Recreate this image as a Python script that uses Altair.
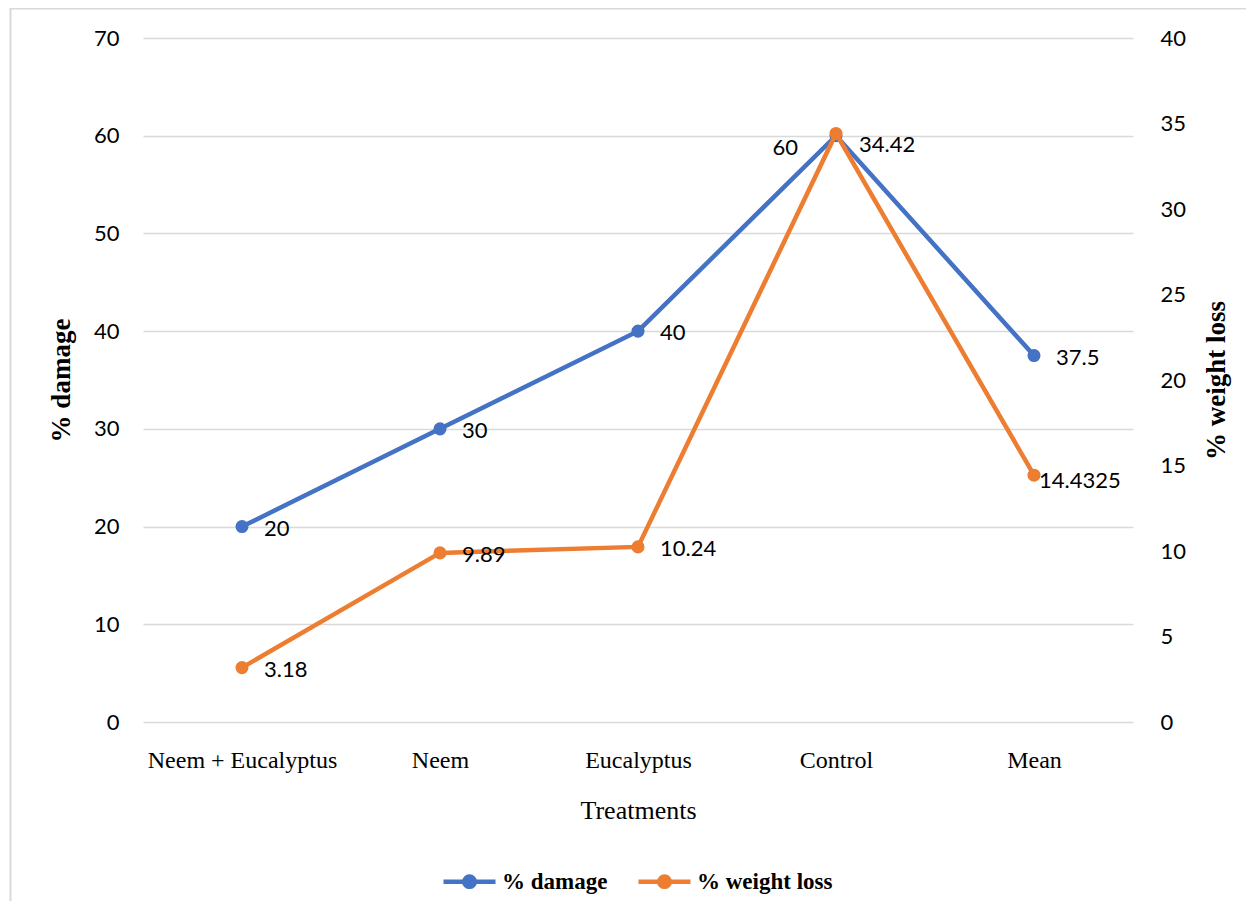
import altair as alt
import pandas as pd

treatments = ["Neem + Eucalyptus", "Neem", "Eucalyptus", "Control", "Mean"]
damage = [20, 30, 40, 60, 37.5]
weight_loss = [3.18, 9.89, 10.24, 34.42, 14.4325]
series_names = ["% damage", "% weight loss"]
series_colors = ["#4472C4", "#ED7D31"]

df_d = pd.DataFrame({"Treatment": treatments, "value": damage})
df_d["series"] = series_names[0]
df_w = pd.DataFrame({"Treatment": treatments, "value": weight_loss})
df_w["series"] = series_names[1]

SANS = "Lato"
SERIF = "Liberation Serif"
GRID = "#d9d9d9"

x_enc = alt.X(
    "Treatment:N",
    sort=treatments,
    scale=alt.Scale(type="point", padding=0.5),
    axis=alt.Axis(
        title="Treatments", labelAngle=0, domain=False, ticks=False, tickSize=0,
        grid=False, labelFont=SERIF, labelFontSize=24, labelColor="#000000",
        labelPadding=26, labelLimit=0, titleFont=SERIF, titleFontSize=26,
        titleFontWeight="normal", titleColor="#000000", titlePadding=25,
    ),
)

SYMBOL = ("M -1 0 L 1 0 "
          "M -0.2 0 A 0.2 0.2 0 1 0 0.2 0 A 0.2 0.2 0 1 0 -0.2 0 "
          "M -0.07 0 A 0.07 0.07 0 1 0 0.07 0 A 0.07 0.07 0 1 0 -0.07 0")

color_enc = alt.Color(
    "series:N",
    scale=alt.Scale(domain=series_names, range=series_colors),
    legend=alt.Legend(
        title=None, orient="none", direction="horizontal", legendX=298, legendY=815,
        padding=0, symbolType=SYMBOL,
        symbolSize=2704, symbolStrokeWidth=4.5, labelFont=SERIF, labelFontSize=23,
        labelFontWeight="bold", labelColor="#000000", labelOffset=4, columnPadding=21,
    ),
)


def text_style(**kw):
    return dict(font=SANS, fontSize=22, color="#000000", baseline="middle", **kw)


POINT = alt.OverlayMarkDef(filled=True, size=170)

# left axis (damage)
left_axis = alt.Axis(
    title="% damage", values=list(range(0, 71, 10)), domain=False, ticks=False, tickSize=0,
    grid=True, gridColor=GRID, gridWidth=1.5, labelFont=SANS, labelFontSize=22,
    labelColor="#000000", labelPadding=24, titleFont=SERIF, titleFontSize=27,
    titleFontWeight="bold", titleColor="#000000", titlePadding=18,
)
yd = alt.Y("value:Q", scale=alt.Scale(domain=[0, 70], nice=False), axis=left_axis)

bd = alt.Chart(df_d).transform_calculate(label="toString(datum.value)")
d_line = bd.mark_line(strokeWidth=4.5, point=POINT).encode(color=color_enc)
d_text = bd.mark_text(**text_style(align="left", dx=22, dy=2)).encode(text="label:N").transform_filter(
    "datum.Treatment != 'Control'")
d_text_c = bd.mark_text(**text_style(align="right", dx=-38, dy=12)).encode(text="label:N").transform_filter(
    "datum.Treatment == 'Control'")
left = alt.layer(d_line, d_text, d_text_c).encode(x=x_enc, y=yd)

# right axis (weight loss)
right_axis = alt.Axis(
    title="% weight loss", orient="right", values=list(range(0, 41, 5)), domain=False, ticks=False,
    tickSize=0, grid=False, labelFont=SANS, labelFontSize=22, labelColor="#000000",
    labelPadding=27, titleFont=SERIF, titleFontSize=27, titleFontWeight="bold",
    titleColor="#000000", titlePadding=18, titleAngle=270, titleBaseline="top",
)
yw = alt.Y("value:Q", scale=alt.Scale(domain=[0, 40], nice=False), axis=right_axis)

bw = alt.Chart(df_w).transform_calculate(label="toString(datum.value)")
w_line = bw.mark_line(strokeWidth=4.5, point=POINT).encode(color=color_enc)
w_text = bw.mark_text(**text_style(align="left", dx=22, dy=2)).encode(text="label:N").transform_filter(
    "datum.Treatment != 'Control' && datum.Treatment != 'Mean'")
w_text_c = bw.mark_text(**text_style(align="left", dx=23, dy=12)).encode(text="label:N").transform_filter(
    "datum.Treatment == 'Control'")
w_text_m = bw.mark_text(**text_style(align="left", dx=5, dy=6)).encode(text="label:N").transform_filter(
    "datum.Treatment == 'Mean'")
right = alt.layer(w_line, w_text, w_text_c, w_text_m).encode(x=x_enc, y=yw)

# decorative outer frame
frame = alt.Chart(pd.DataFrame({"f": [0]})).mark_rect(
    fill=None, stroke=GRID, strokeWidth=2
).encode(x=alt.value(-132.5), x2=alt.value(1300), y=alt.value(-29.5), y2=alt.value(1000))

chart = alt.layer(frame, left, right).resolve_scale(y="independent").properties(
    width=990, height=684,
    autosize=alt.AutoSizeParams(type="none"),
    padding={"left": 135, "top": 30, "right": 113, "bottom": 179},
    background="white",
).configure_view(stroke=None)

chart.save("out.html", embed_options={"renderer": "svg", "actions": False})
